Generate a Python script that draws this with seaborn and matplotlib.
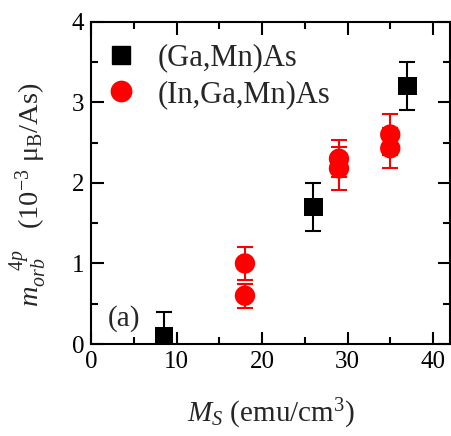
import pandas as pd
import matplotlib
matplotlib.use("Agg")
import matplotlib.pyplot as plt
from matplotlib.ticker import MultipleLocator
import seaborn as sns

# (Ga,Mn)As
gamn_ms = [8.5, 26.0, 37.0]
gamn_morb = [0.1, 1.7, 3.2]
gamn_err = [0.3, 0.3, 0.3]

# (In,Ga,Mn)As
ingamn_ms = [18.0, 18.0, 29.0, 29.0, 35.0, 35.0]
ingamn_morb = [1.0, 0.6, 2.3, 2.18, 2.6, 2.43]
ingamn_err = [0.2, 0.15, 0.23, 0.27, 0.25, 0.25]

labels = ["(Ga,Mn)As", "(In,Ga,Mn)As"]

df = pd.concat([
    pd.DataFrame({"ms": gamn_ms, "morb": gamn_morb, "err": gamn_err, "sample": labels[0]}),
    pd.DataFrame({"ms": ingamn_ms, "morb": ingamn_morb, "err": ingamn_err, "sample": labels[1]}),
], ignore_index=True)

sns.set_theme(style="ticks")
plt.rcParams["font.family"] = ["Liberation Serif", "DejaVu Serif"]
plt.rcParams["mathtext.fontset"] = "custom"
plt.rcParams["mathtext.rm"] = "Liberation Serif"
plt.rcParams["mathtext.it"] = "Liberation Serif:italic"
plt.rcParams["mathtext.bf"] = "Liberation Serif:bold"

colors = {labels[0]: "black", labels[1]: "#ff0000"}
markers = {labels[0]: "s", labels[1]: "o"}
areas = {labels[0]: 175, labels[1]: 215}

fig = plt.figure(figsize=(4.51, 4.36), dpi=100)
ax = fig.add_axes([0.202, 0.211, 0.796, 0.739])

for lab in labels:
    sub = df[df["sample"] == lab]
    ax.errorbar(sub["ms"], sub["morb"], yerr=sub["err"], fmt="none",
                ecolor=colors[lab], elinewidth=1.5, capsize=5.5, capthick=1.5, zorder=2)

sns.scatterplot(data=df, x="ms", y="morb", hue="sample", style="sample", size="sample",
                palette=colors, markers=markers, sizes=areas, edgecolor="none",
                legend=False, ax=ax, zorder=3)

for lab in labels:
    ax.plot([], [], ls="none", marker=markers[lab], color=colors[lab],
            markersize=areas[lab] ** 0.5, label=lab)

ax.legend(loc="upper left", frameon=False, fontsize=22, handletextpad=0.6,
          borderaxespad=0.2, labelspacing=0.25, handlelength=1.2,
          bbox_to_anchor=(-0.02, 0.99))

ax.text(3.9, 0.32, "(a)", fontsize=21, ha="center", va="center")

ax.set_xlim(0, 42)
ax.set_ylim(0, 4)
ax.xaxis.set_major_locator(MultipleLocator(10))
ax.xaxis.set_minor_locator(MultipleLocator(5))
ax.yaxis.set_major_locator(MultipleLocator(1))
ax.yaxis.set_minor_locator(MultipleLocator(0.5))
ax.tick_params(which="both", direction="in", top=True, right=True, width=1.5,
               colors="black", labelsize=18)
ax.tick_params(which="major", length=9, pad=5)
ax.tick_params(which="minor", length=5)
for sp in ax.spines.values():
    sp.set_linewidth(1.5)
    sp.set_color("black")

ax.set_xlabel(r"$M_S$ (emu/cm$^3$)", fontsize=21, labelpad=17)
ax.set_ylabel(r"$m_{orb}^{\ \ \ 4p}$   (10$^{-3}$ μ$_{\mathrm{B}}$/As)", fontsize=20.5)
ax.yaxis.set_label_coords(-0.118, 0.463)

fig.savefig("out.png", dpi=100)
